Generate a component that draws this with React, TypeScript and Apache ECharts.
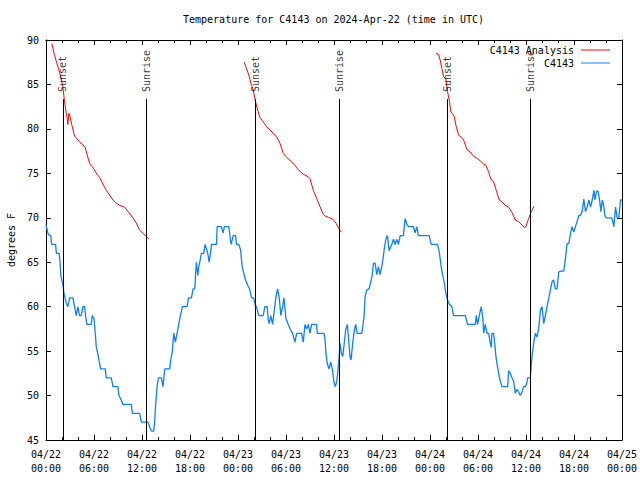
import React, { useEffect, useRef } from "react";
import * as echarts from "echarts";

const TITLE = "Temperature for C4143 on 2024-Apr-22 (time in UTC)";
const Y_LABEL = "degrees F";
const MONTH = "04";
const START_DAY = 22;
const X_TICK_HOURS = 6;
const X_MAX_HOURS = 72;
const Y_MIN = 45;
const Y_MAX = 90;
const Y_STEP = 5;

const SERIES_ANALYSIS = "C4143 Analysis";
const SERIES_STATION = "C4143";

// hours since 04/22 00:00 UTC
const sunsetHours = [2.1, 26.15, 50.19];
const sunriseHours = [12.58, 36.67, 60.55];
const SUN_LINE_TOP = 83.35;

const stationHours = [
  0.0, 0.15, 0.3, 0.6, 0.7, 1.2, 1.3, 1.65, 1.75, 1.85, 2.1, 2.25, 2.5, 2.73, 2.85, 2.94, 3.36, 3.57, 3.78, 3.99, 4.19, 4.4, 4.61, 4.82, 4.94, 5.11, 5.66, 5.78, 5.99, 6.16, 6.28, 6.41, 6.62, 6.82, 7.41, 7.53, 8.16, 8.37, 8.99, 9.12, 9.41, 9.62, 10.66, 10.79, 11.71, 11.92, 12.75, 12.96, 13.17, 13.46, 13.58, 13.71, 13.88, 14.05, 14.42, 14.63, 14.84, 15.46, 15.59, 15.8, 15.97, 16.17, 16.38, 16.59, 16.8, 17.05, 17.63, 17.81, 18.18, 18.38, 18.6, 18.72, 18.8, 18.97, 19.1, 19.22, 19.43, 19.72, 19.89, 20.06, 20.22, 20.39, 20.56, 20.68, 21.31,
  21.39, 21.93, 22.14, 22.3, 22.85, 23.06, 23.15, 23.39, 23.69, 23.81, 24.1, 24.32, 24.52, 24.65, 24.94, 25.27, 25.45, 25.69, 25.95, 26.15, 26.3, 26.61, 27.15, 27.36, 27.65, 27.78, 27.9, 28.1, 28.32, 28.53, 28.74, 28.95, 29.15, 29.36, 29.57, 29.75, 29.85, 29.99, 30.28, 30.57, 30.83, 31.12, 31.33, 31.95, 32.16, 32.37, 32.58, 32.79, 33.0, 33.2, 33.83, 33.91, 34.75, 34.87, 35.0, 35.16, 35.37, 35.58, 35.79, 36.0, 36.16, 36.33, 36.46, 36.63, 36.75, 36.92, 37.09, 37.25, 37.46, 37.67, 37.8, 38.0, 38.13, 38.34, 38.55, 38.72, 38.88, 39.47, 39.6, 39.76, 39.88, 40.09, 40.38, 40.6, 40.76, 40.93, 41.14, 41.35, 41.55, 41.76, 41.97, 42.1, 42.3, 42.51, 42.68, 42.89, 43.01, 43.22, 43.43, 43.64, 43.85, 44.06, 44.27, 44.68, 44.89, 45.1, 45.31, 45.93, 46.14, 46.35, 46.56,
  47.9, 48.15, 48.94, 49.15, 49.27, 49.4, 49.57, 49.77, 49.98, 50.19, 50.4, 50.74, 50.94, 52.4, 52.53, 52.7, 53.66, 53.78, 53.95, 54.16, 54.41, 54.62, 54.7, 54.91, 55.12, 55.33, 55.54, 55.66, 55.74, 55.95, 56.08, 56.24, 56.41, 56.58, 56.79, 57.0, 57.71, 57.83, 58.04, 58.25, 58.46, 58.67, 58.88, 59.08, 59.29, 59.5, 59.71, 59.92, 60.13, 60.2, 60.54, 60.75, 60.96, 61.17, 61.38, 61.59, 61.8, 62.0, 62.21, 62.42, 62.63, 62.84, 63.05, 63.26, 63.46, 63.67, 63.88, 64.09, 64.3, 64.72, 64.93, 65.14, 65.35, 65.56, 65.76, 65.97, 66.18, 66.39, 66.6, 66.81, 67.02, 67.23, 67.44, 67.65, 67.86, 68.07, 68.28, 68.49, 68.61, 68.82, 69.0, 69.2, 69.36, 69.53, 69.74, 69.86, 70.0, 70.69, 70.85, 70.98, 71.19, 71.4, 71.6, 71.82, 72.0,
];
const stationTemps = [
  69.2, 68.6, 68.1, 68, 67, 67, 66, 66, 65, 63.5, 62.5, 61.5, 60.5, 60, 60.5, 61, 61, 60, 59, 60, 59, 59, 60, 60, 59, 58, 58, 59, 58.7, 57, 55.5, 55, 54, 53, 53, 52, 52, 51, 51, 50, 49.5, 49, 49, 48, 48, 47, 47, 46.5, 46, 46, 47, 49, 51, 52, 52, 51, 53, 53, 54, 55, 57, 56, 57, 58, 59, 60, 60, 61, 61, 62, 62, 64, 65, 63.5, 64.5, 65, 66, 66, 67, 66.5, 66, 65, 66, 67, 67,
  69, 69, 68.3, 69, 69, 67.5, 67, 68, 68, 67, 67, 66.4, 64.5, 64, 63, 62.3, 62, 61, 61, 60.2, 60, 59, 59, 60, 60, 58.5, 58.1, 59, 58, 59.5, 61.1, 62, 61, 59, 60, 61, 60, 58.7, 58, 57.4, 57, 56, 57, 57, 56, 58, 57.5, 58, 57, 58, 58, 57, 57, 56.4, 54.75, 53.6, 53, 53.75, 53, 51.5, 51, 51.5, 52.5, 54.2, 55.9, 54.75, 54.4, 55.6, 57.4, 58, 56.6, 54.4, 54, 55.9, 57.4, 58, 57, 57, 57.8, 58.9, 61.1, 61.9, 62, 62.8, 63.5, 64.9, 64.9, 63.6, 64.5, 63.6, 64.5, 65.2, 66.6, 67.7, 68, 66.3, 66.6, 67, 67.6, 67, 67.6, 67, 68, 68, 69.9, 69.3, 69, 69, 68.3, 69, 68,
  68, 67, 67, 66.2, 65.4, 64.5, 63.6, 62.8, 61.5, 60.75, 60.3, 60, 59, 59, 58.6, 58, 58, 59, 58, 59, 60, 58.6, 57, 58, 57, 57, 55.9, 55.4, 57, 57, 55.9, 54.4, 53.4, 52.5, 51.6, 51, 51, 52.8, 52.5, 52, 51.6, 50.25, 50.7, 50.4, 50, 50.4, 51, 51, 51.5, 52, 52, 54.4, 55.9, 57, 56.6, 57.6, 59.6, 60, 58.1, 59, 60, 60.9, 61.9, 62.8, 63, 62, 62, 63.9, 64, 64, 65.4, 67.1, 67.1, 68.25, 69, 68.4, 69, 69.6, 70.25, 70.25, 70.7, 72.1, 70.7, 71.2, 72, 71.2, 72, 73.1, 72, 73, 73, 72, 70.7, 72, 71.2, 70.25, 70, 70, 69.6, 69, 71.2, 70, 70, 72, 72,
];

// null temperature = gap between the nightly analysis runs
const analysisHours = [
  0.73, 1.06, 1.36, 1.69, 1.94, 2.1, 2.32, 2.53, 2.65, 2.73, 2.86, 3.03, 3.28, 3.57, 3.86, 4.19, 4.61, 4.91, 5.11, 5.45, 5.79, 6.07, 6.36, 6.7, 7.11, 7.53, 7.95, 8.36, 8.7, 9.2, 9.83, 10.25, 10.87, 11.29, 11.71, 12.12, 12.55, 12.84,
  18,
  24.77, 25.07, 25.4, 25.69, 25.9, 26.15, 26.4, 26.73, 27.15, 27.57, 27.99, 28.4, 28.82, 29.24, 29.65, 30.07, 30.7, 31.12, 31.53, 32.16, 32.79, 33.0, 33.41, 33.83, 34.25, 34.66, 34.87, 35.29, 35.91, 36.25, 36.54, 36.75, 36.96,
  42,
  48.73, 49.06, 49.27, 49.48, 49.69, 49.98, 50.19, 50.44, 50.61, 50.82, 51.03, 51.28, 51.57, 51.86, 52.2, 52.61, 53.03, 53.45, 53.87, 54.28, 54.7, 54.99, 55.32, 55.62, 55.95, 56.28, 56.66, 56.99, 57.41, 57.83, 58.25, 58.66, 59.08, 59.5, 59.79, 60.0, 60.33, 60.67, 61.0,
];
const analysisTemps = [
  89.6, 88.3, 87.4, 86.4, 85.5, 84.75, 83.06, 81.75, 81.2, 80.5, 81.75, 81.3, 80.25, 79.2, 78.9, 78.55, 78.2, 77.9, 77.2, 76.1, 75.75, 75.4, 74.9, 74.55, 73.8, 73.1, 72.56, 72, 71.7, 71.4, 71.2, 70.7, 70.0, 69.4, 68.6, 68.25, 67.9, 67.6,
  null,
  87.5, 86.8, 85.9, 84.9, 84.4, 83.25, 82.3, 81.3, 80.8, 80.25, 79.9, 79.5, 79.1, 78.4, 77.25, 76.8, 76.3, 75.9, 75.4, 74.9, 74.6, 74.4, 73.1, 72.2, 71.25, 70.4, 70.2, 70.05, 69.8, 69.4, 68.9, 68.55, 68.4,
  null,
  88.5, 88.4, 87.75, 86.8, 85.9, 85.6, 84.2, 83.06, 81.9, 81.7, 81.4, 80.25, 79.3, 79.1, 78.75, 77.7, 77.4, 76.9, 76.7, 76.4, 76.05, 75.9, 75.2, 74.3, 74.06, 73.1, 72, 71.8, 71.4, 71.2, 70.6, 69.75, 69.56, 69.2, 68.9, 69.0, 69.94, 70.7, 71.3,
];

const FONT = "'DejaVu Sans Mono', 'Liberation Mono', monospace";
const RED = "#ff0000";
const BLUE = "#0a80ff";

function xLabel(v: number): string {
  const day = START_DAY + Math.floor(v / 24);
  const hour = v % 24;
  return `${MONTH}/${day}\n${String(hour).padStart(2, "0")}:00`;
}

export default function App() {
  const ref = useRef<HTMLDivElement>(null);
  useEffect(() => {
    if (!ref.current) return;
    const chart = echarts.init(ref.current, undefined, { renderer: "svg" });

    const stationData = stationHours.map((h, i) => [h, stationTemps[i]]);
    const analysisData = analysisHours.map((h, i) => [h, analysisTemps[i]]);
    const sunEvents = [
      ...sunsetHours.map((h) => [h, SUN_LINE_TOP, "Sunset"]),
      ...sunriseHours.map((h) => [h, SUN_LINE_TOP, "Sunrise"]),
    ];

    const axisLine = { show: true, onZero: false, lineStyle: { color: "#000", width: 1 } };
    const tickStyle = { color: "#000", width: 1 };
    const labelStyle = { fontFamily: FONT, fontSize: 10, color: "#000" };

    const xCommon = {
      type: "value" as const,
      min: 0,
      max: X_MAX_HOURS,
      interval: X_TICK_HOURS,
      axisLine,
      axisTick: { show: true, inside: true, length: 5, lineStyle: tickStyle },
      minorTick: { show: true, splitNumber: 3, length: 3, lineStyle: tickStyle },
      splitLine: { show: false },
      minorSplitLine: { show: false },
    };
    const yCommon = {
      type: "value" as const,
      min: Y_MIN,
      max: Y_MAX,
      interval: Y_STEP,
      axisLine,
      axisTick: { show: true, inside: true, length: 5, lineStyle: tickStyle },
      splitLine: { show: false },
    };

    chart.setOption({
      animation: false,
      backgroundColor: "#fff",
      title: {
        text: TITLE,
        left: 183,
        top: 14,
        padding: 0,
        textStyle: { fontFamily: FONT, fontSize: 10, fontWeight: "normal", color: "#000" },
      },
      legend: {
        data: [
          { name: SERIES_ANALYSIS, icon: "rect" },
          { name: SERIES_STATION, icon: "rect" },
        ],
        orient: "vertical",
        right: 30,
        top: 44,
        align: "right",
        itemWidth: 29,
        itemHeight: 1,
        itemGap: 1,
        padding: 0,
        selectedMode: false,
        textStyle: { fontFamily: FONT, fontSize: 10, color: "#000", padding: [0, 2, 0, 0], lineHeight: 12 },
      },
      grid: { left: 46, right: 18, top: 40, bottom: 40, containLabel: false, outerBoundsMode: "none" },
      xAxis: [
        {
          ...xCommon,
          position: "bottom",
          axisLabel: { ...labelStyle, formatter: xLabel, margin: 7, lineHeight: 14, showMinLabel: true, showMaxLabel: true },
        },
        { ...xCommon, position: "top", axisLabel: { show: false } },
      ],
      yAxis: [
        {
          ...yCommon,
          position: "left",
          name: Y_LABEL,
          nameLocation: "middle",
          nameRotate: 90,
          nameGap: 30,
          nameTextStyle: { fontFamily: FONT, fontSize: 10, color: "#000" },
          axisLabel: { ...labelStyle, margin: 7 },
        },
        { ...yCommon, position: "right", axisLabel: { show: false } },
      ],
      series: [
        {
          name: SERIES_ANALYSIS,
          type: "line",
          xAxisIndex: 0,
          yAxisIndex: 0,
          data: analysisData,
          symbol: "none",
          showSymbol: false,
          connectNulls: false,
          lineStyle: { color: RED, width: 1 },
          itemStyle: { color: RED },
          z: 3,
        },
        {
          name: SERIES_STATION,
          type: "line",
          xAxisIndex: 0,
          yAxisIndex: 0,
          data: stationData,
          symbol: "none",
          showSymbol: false,
          lineStyle: { color: BLUE, width: 1.3 },
          itemStyle: { color: BLUE },
          z: 2,
        },
        {
          name: "sun",
          type: "scatter",
          xAxisIndex: 0,
          yAxisIndex: 0,
          data: sunEvents,
          symbolSize: 0,
          silent: true,
          label: {
            show: true,
            position: "top",
            distance: 7,
            rotate: 90,
            align: "left",
            verticalAlign: "middle",
            fontFamily: FONT,
            fontSize: 10,
            color: "#000",
            formatter: (p: any) => p.value[2],
          },
          markLine: {
            silent: true,
            symbol: ["none", "none"],
            label: { show: false },
            lineStyle: { color: "#000", width: 1, type: "solid" },
            data: sunEvents.map((e) => [{ coord: [e[0], Y_MIN] }, { coord: [e[0], SUN_LINE_TOP] }]),
          },
          z: 4,
        },
      ],
    });
    return () => chart.dispose();
  }, []);
  return <div ref={ref} style={{ position: "fixed", left: 0, top: 0, width: 640, height: 480 }} />;
}
